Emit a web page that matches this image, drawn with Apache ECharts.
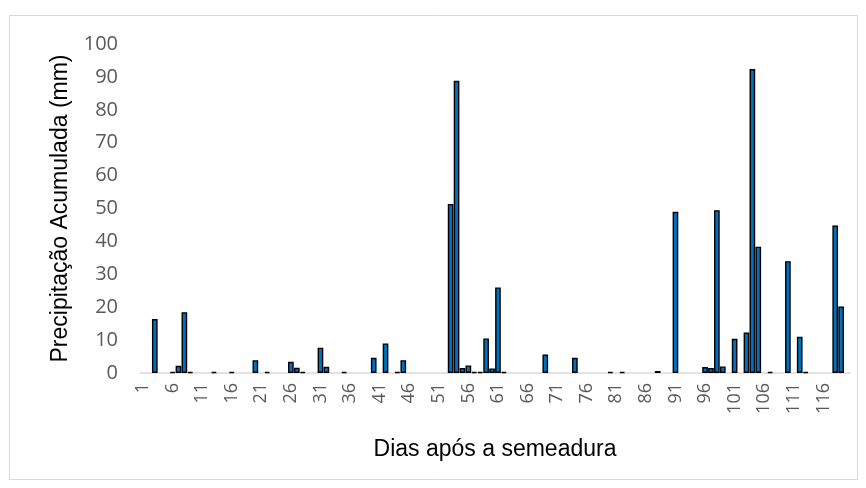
<!DOCTYPE html>
<html>
    <head>
        <meta charset="utf-8" />
        <script src="https://cdn.jsdelivr.net/npm/echarts@6/dist/echarts.min.js"></script>
    </head>
    <body>
        <style>
            html, body, #main {
                width: 100%;
                padding: 0;
                margin: 0;
                height: 100%;
                background: #fff;
            }
        </style>
        <div id="main"></div>
        <script>
            // dias com chuva e a precipitação (mm)
            var rainDays = [3, 6, 7, 8, 9, 13, 16, 20, 22, 26, 27, 28, 31, 32, 35, 40, 42, 44, 45,
                53, 54, 55, 56, 57, 58, 59, 60, 61, 62, 69, 74, 80, 82, 88, 91, 96, 97, 98, 99,
                101, 103, 104, 105, 107, 110, 112, 113, 118, 119];
            var rainValues = [16.4, 0.3, 2.2, 18.5, 0.3, 0.3, 0.3, 3.9, 0.3, 3.4, 1.6, 0.3, 7.7, 1.9, 0.3, 4.6, 9.0, 0.3, 3.9,
                51.4, 88.8, 1.5, 2.3, 0.3, 0.3, 10.5, 1.4, 26.0, 0.3, 5.6, 4.6, 0.3, 0.3, 0.6, 49.0, 1.8, 1.5, 49.5, 2.0,
                10.4, 12.3, 92.4, 38.4, 0.3, 34.0, 11.0, 0.3, 44.8, 20.2];
            var dayCount = 120;

            var days = [];
            var values = [];
            for (var d = 1; d <= dayCount; d++) {
                days.push(String(d));
                var k = rainDays.indexOf(d);
                values.push(k >= 0 ? rainValues[k] : null);
            }

            var chart = echarts.init(document.getElementById('main'));
            var font = '"Open Sans", sans-serif';
            var titleFont = '"Liberation Sans", Arial, sans-serif';

            chart.setOption({
                animation: false,
                graphic: [{
                    type: 'rect',
                    shape: { x: 9.5, y: 15.5, width: 848, height: 464 },
                    style: { fill: 'none', stroke: '#d9d9d9', lineWidth: 1 },
                    silent: true
                }],
                grid: {
                    left: 140,
                    right: 16,
                    top: 44,
                    bottom: 115
                },
                xAxis: {
                    type: 'category',
                    data: days,
                    name: 'Dias após a semeadura',
                    nameLocation: 'middle',
                    nameGap: 65,
                    nameTextStyle: { fontFamily: titleFont, fontSize: 23, color: '#000' },
                    axisLine: { lineStyle: { color: '#d9d9d9', width: 1.5 } },
                    axisTick: { show: false },
                    axisLabel: {
                        interval: 4,
                        rotate: 90,
                        margin: 10,
                        fontFamily: font,
                        fontSize: 18,
                        color: '#595959'
                    }
                },
                yAxis: {
                    type: 'value',
                    min: 0,
                    max: 100,
                    interval: 10,
                    name: 'Precipitação Acumulada (mm)',
                    nameLocation: 'middle',
                    nameGap: 68,
                    nameTextStyle: { fontFamily: titleFont, fontSize: 23, color: '#000' },
                    axisLine: { show: false },
                    axisTick: { show: false },
                    splitLine: { show: false },
                    axisLabel: {
                        margin: 22,
                        fontFamily: font,
                        fontSize: 20,
                        color: '#595959'
                    }
                },
                series: [{
                    type: 'bar',
                    data: values,
                    barCategoryGap: '4%',
                    itemStyle: {
                        color: '#0070c0',
                        borderColor: '#000',
                        borderWidth: 1.4
                    }
                }]
            });
        </script>
    </body>
</html>
